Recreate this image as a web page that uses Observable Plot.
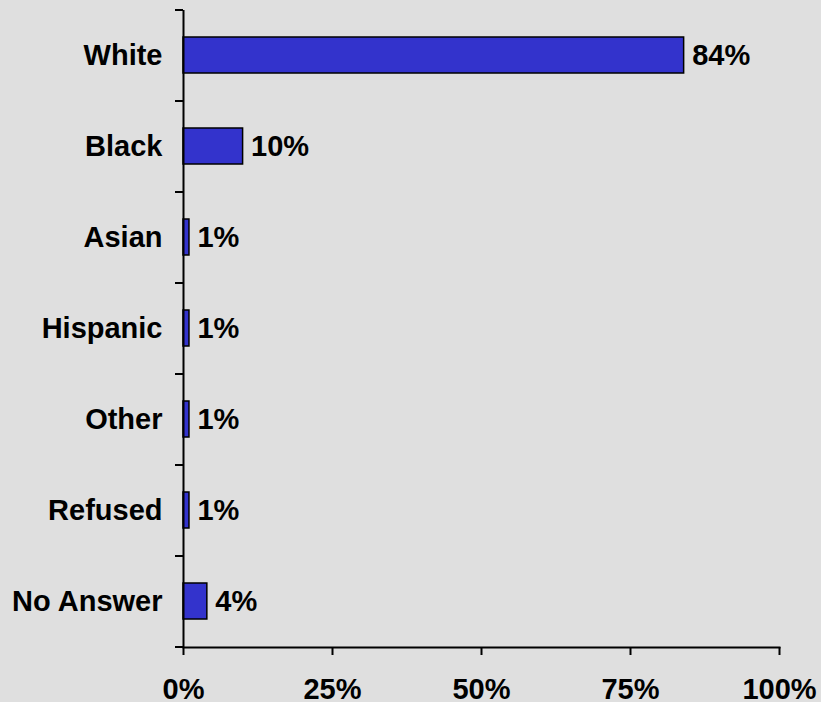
<!DOCTYPE html>
<html>
<head>
<meta charset="utf-8">
<script src="https://cdn.jsdelivr.net/npm/d3@7"></script>
<script src="https://cdn.jsdelivr.net/npm/@observablehq/plot@0.6"></script>
<style>
  html, body { margin: 0; padding: 0; background: #dfdfdf; }
  #chart svg { display: block; }
</style>
</head>
<body>
<div id="chart"></div>
<script>
const categories = ["White", "Black", "Asian", "Hispanic", "Other", "Refused", "No Answer"];
const values = [84, 10, 1, 1, 1, 1, 4];
const xTicks = [0, 25, 50, 75, 100];

const data = categories.map((c, i) => ({cat: c, value: values[i]}));

const W = 821, H = 702;
const mTop = 10, mBottom = 55, mLeft = 183, mRight = 42;
const step = (H - mTop - mBottom) / categories.length;

const chart = Plot.plot({
  width: W,
  height: H,
  marginTop: mTop,
  marginBottom: mBottom,
  marginLeft: mLeft,
  marginRight: mRight,
  style: {
    background: "#dfdfdf",
    fontFamily: "'Liberation Sans', Arial, sans-serif",
    fontSize: "29px",
    fontWeight: "bold",
    color: "black"
  },
  x: {domain: [0, 100]},
  y: {domain: categories, paddingInner: 0.6, paddingOuter: 0.3},
  marks: [
    Plot.barX(data, {x: "value", y: "cat", fill: "#3333cc", stroke: "black", strokeWidth: 1.5}),
    Plot.text(data, {x: "value", y: "cat", text: d => d.value + "%", textAnchor: "start", dx: 8, fill: "black", fontSize: 29, fontWeight: "bold"}),
    Plot.ruleX([0], {stroke: "black", strokeWidth: 2}),
    Plot.frame({anchor: "bottom", stroke: "black", strokeWidth: 2}),
    Plot.axisY({ticks: categories, tickSize: 0, tickPadding: 21, label: null, fill: "black"}),
    Plot.axisY({ticks: categories, tickSize: 8, dy: -step / 2, tickFormat: () => "", label: null, strokeWidth: 2}),
    Plot.axisY({ticks: [categories[categories.length - 1]], tickSize: 8, dy: step / 2, tickFormat: () => "", label: null, strokeWidth: 2}),
    Plot.axisX({ticks: xTicks, tickSize: 8, tickPadding: 23, tickFormat: d => d + "%", label: null, strokeWidth: 2, fill: "black"})
  ]
});
document.getElementById("chart").appendChild(chart);
</script>
</body>
</html>
